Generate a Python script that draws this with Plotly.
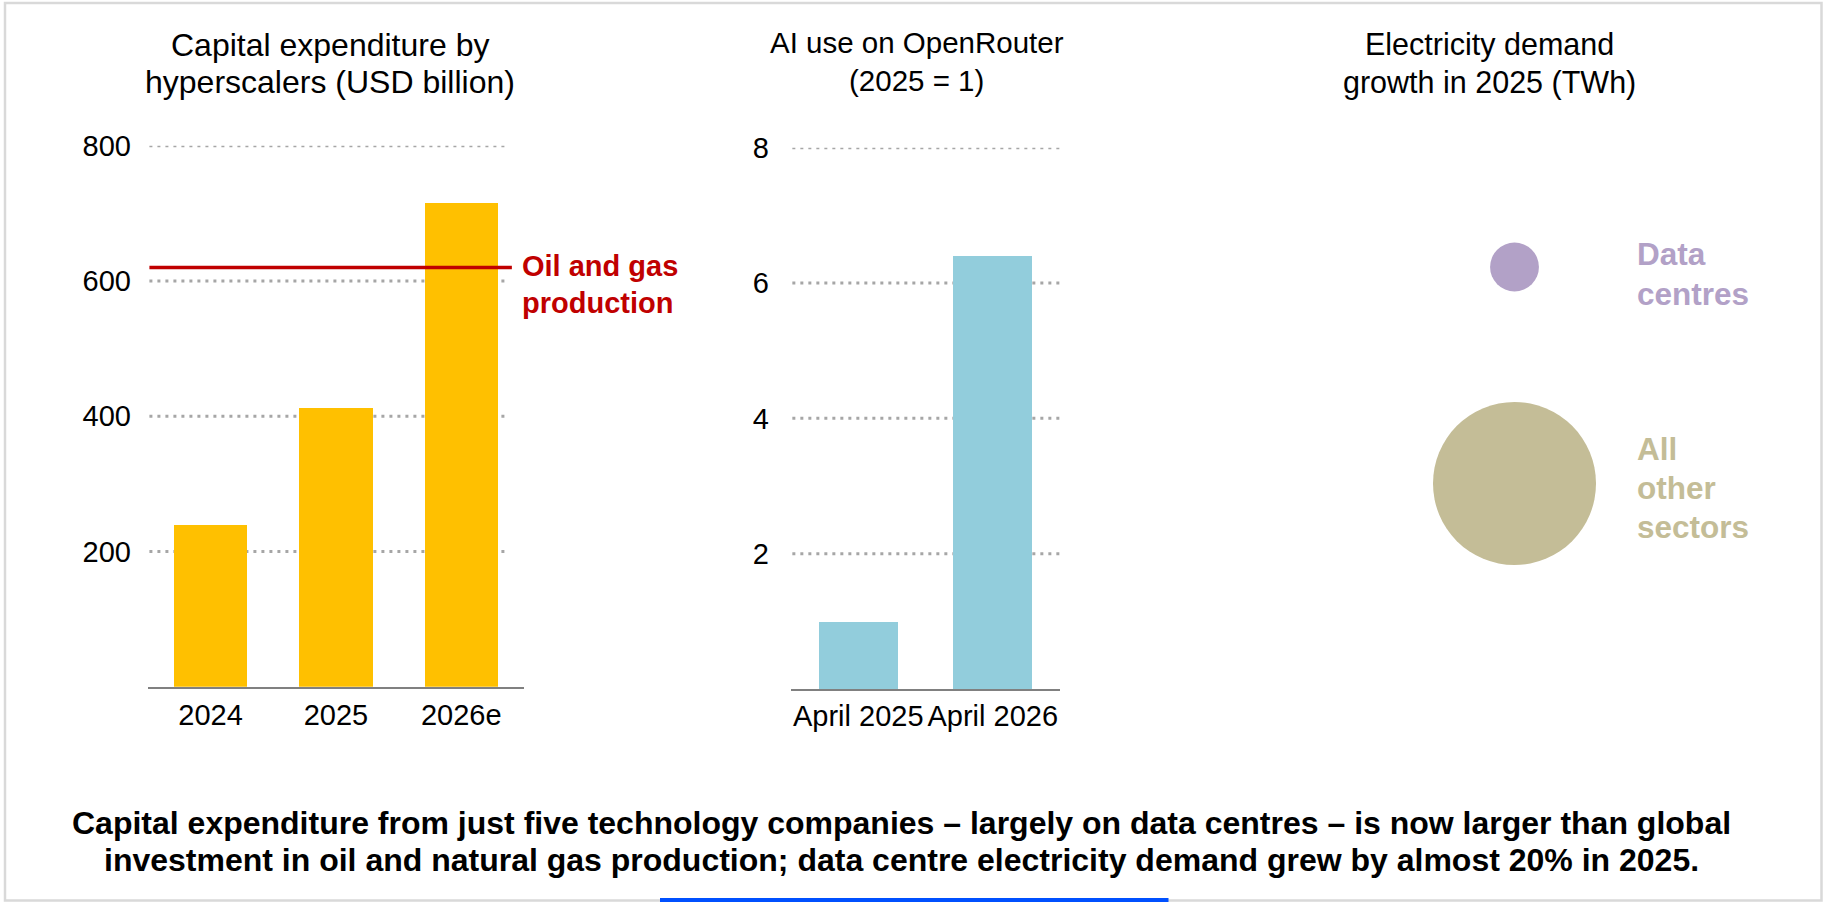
import plotly.graph_objects as go

# ---------------- data ----------------
capex_years = ["2024", "2025", "2026e"]
capex_values = [240, 412, 715]
capex_ticks = [200, 400, 600, 800]
oil_gas_investment = 620

ai_periods = ["April 2025", "April 2026"]
ai_values = [1.0, 6.4]
ai_ticks = [2, 4, 6, 8]

sectors = ["All other sectors", "Data centres"]
sector_year = ["2025", "2025"]
sector_growth_twh = [890, 80]

W, H = 1825, 902
FONT = "Liberation Sans, Arial, sans-serif"


def px_x(p):
    return p / W


def px_y(p):
    return 1 - p / H


fig = go.Figure()

# ---------------- panel 1: capex bars ----------------
fig.add_trace(go.Bar(
    x=capex_years, y=capex_values, xaxis="x", yaxis="y",
    marker=dict(color="#ffc000", line=dict(width=0)), width=0.587,
    showlegend=False, hoverinfo="x+y",
))

# ---------------- panel 2: AI use bars ----------------
fig.add_trace(go.Bar(
    x=ai_periods, y=ai_values, xaxis="x2", yaxis="y2",
    marker=dict(color="#92cddc", line=dict(width=0)), width=0.588,
    showlegend=False, hoverinfo="x+y",
))

# ---------------- panel 3: bubbles ----------------
max_d = 163
fig.add_trace(go.Scatter(
    x=sector_year, y=sectors, xaxis="x3", yaxis="y3", mode="markers",
    marker=dict(
        size=sector_growth_twh, sizemode="area",
        sizeref=2 * max(sector_growth_twh) / (max_d ** 2),
        color=["#c4bd97", "#b2a1c7"], line=dict(width=0), opacity=1,
    ),
    cliponaxis=False, showlegend=False, hoverinfo="y+text",
    text=[f"{v} TWh" for v in sector_growth_twh],
))

tick_font = dict(family=FONT, size=29, color="#000000")

layout = dict(
    width=W, height=H,
    margin=dict(l=0, r=0, t=0, b=0),
    paper_bgcolor="white", plot_bgcolor="rgba(0,0,0,0)",
    bargap=0,
    font=dict(family=FONT, color="#000000"),
    xaxis=dict(
        domain=[px_x(147.9), px_x(523.9)], range=[-0.5, 2.5], type="category",
        categoryorder="array", categoryarray=capex_years,
        showline=True, linecolor="#808080", linewidth=2,
        showgrid=False, zeroline=False, ticks="", tickfont=tick_font,
        ticklabelstandoff=1, fixedrange=True, automargin=False,
    ),
    yaxis=dict(
        domain=[px_y(686.7), px_y(145.7)], range=[0, 800],
        tickvals=capex_ticks, showgrid=False, zeroline=False, showline=False,
        ticks="", tickfont=tick_font, ticklabelstandoff=16, fixedrange=True,
        automargin=False,
    ),
    xaxis2=dict(
        domain=[px_x(791), px_x(1060)], range=[-0.5, 1.5], type="category",
        categoryorder="array", categoryarray=ai_periods, anchor="y2",
        showline=True, linecolor="#808080", linewidth=2,
        showgrid=False, zeroline=False, ticks="", tickfont=tick_font,
        ticklabelstandoff=0, fixedrange=True, automargin=False,
    ),
    yaxis2=dict(
        domain=[px_y(689), px_y(147.7)], range=[0, 8], anchor="x2",
        tickvals=ai_ticks, showgrid=False, zeroline=False, showline=False,
        ticks="", tickfont=tick_font, ticklabelstandoff=21, fixedrange=True,
        automargin=False,
    ),
    xaxis3=dict(
        domain=[px_x(1464.5), px_x(1564.5)], range=[-0.5, 0.5], type="category",
        anchor="y3", visible=False, fixedrange=True,
    ),
    yaxis3=dict(
        domain=[px_y(591.75), px_y(158.75)], range=[-0.5, 1.5], type="category",
        categoryorder="array", categoryarray=sectors,
        anchor="x3", visible=False, fixedrange=True,
    ),
)
fig.update_layout(**layout)

shapes = []
# dotted gridlines, panel 1
for v in capex_ticks:
    shapes.append(dict(type="line", xref="x domain", yref="y",
                       x0=0.004, x1=0.958, y0=v, y1=v, layer="below",
                       line=dict(color="#a6a6a6", width=3, dash="3px,5px")))
# dotted gridlines, panel 2
for v in ai_ticks:
    shapes.append(dict(type="line", xref="x2 domain", yref="y2",
                       x0=0.005, x1=1.0, y0=v, y1=v, layer="below",
                       line=dict(color="#a6a6a6", width=3, dash="3px,5px")))
# oil and gas reference line
shapes.append(dict(type="line", xref="x domain", yref="y",
                   x0=0.004, x1=0.968, y0=oil_gas_investment, y1=oil_gas_investment,
                   layer="above", line=dict(color="#c00000", width=3.5)))
# outer frame
shapes.append(dict(type="rect", xref="paper", yref="paper",
                   x0=px_x(5), x1=px_x(1821.5), y0=px_y(900.5), y1=px_y(3),
                   line=dict(color="#d9d9d9", width=2.5), fillcolor="rgba(0,0,0,0)"))
# blue accent bar at bottom
shapes.append(dict(type="rect", xref="paper", yref="paper",
                   x0=px_x(660), x1=px_x(1168.5), y0=px_y(902), y1=px_y(898),
                   line=dict(width=0), fillcolor="#0050ff"))
fig.update_layout(shapes=shapes)

annotations = []


def line_ann(text, x, y, size, bold=False, color="#000000", xanchor="center"):
    t = f"<b>{text}</b>" if bold else text
    return dict(text=t, x=px_x(x), y=px_y(y), xref="paper", yref="paper",
                xanchor=xanchor, yanchor="middle", showarrow=False,
                font=dict(family=FONT, size=size, color=color))


# panel titles
annotations.append(line_ann("Capital expenditure by", 330, 45, 32))
annotations.append(line_ann("hyperscalers (USD billion)", 330, 82, 32))
annotations.append(line_ann("AI use on OpenRouter", 916.5, 43, 29.5))
annotations.append(line_ann("(2025 = 1)", 916.5, 80, 29.5))
annotations.append(line_ann("Electricity demand", 1489, 44, 30.5))
annotations.append(line_ann("growth in 2025 (TWh)", 1489, 82, 30.5))

# oil and gas label (two lines, positioned relative to the reference line)
for i, line in enumerate(["Oil and gas", "production"]):
    annotations.append(dict(
        text=f"<b>{line}</b>", x=px_x(520), xref="paper",
        y=oil_gas_investment, yref="y", xanchor="left", yanchor="middle",
        yshift=1 - (i * 37), align="left", showarrow=False,
        font=dict(family=FONT, size=29, color="#c00000"),
    ))

# bubble labels
for i, line in enumerate(["Data", "centres"]):
    annotations.append(dict(
        text=f"<b>{line}</b>", x=px_x(1635), xref="paper",
        y=sectors[1], yref="y3", xanchor="left", yanchor="middle",
        yshift=13 - i * 40, align="left", showarrow=False,
        font=dict(family=FONT, size=31.5, color="#b2a1c7"),
    ))
for i, line in enumerate(["All", "other", "sectors"]):
    annotations.append(dict(
        text=f"<b>{line}</b>", x=px_x(1635), xref="paper",
        y=sectors[0], yref="y3", xanchor="left", yanchor="middle",
        yshift=35 - i * 39, align="left", showarrow=False,
        font=dict(family=FONT, size=31.5, color="#c4bd97"),
    ))

# bottom message
msg_lines = [
    "Capital expenditure from just five technology companies \u2013 largely on data centres \u2013 is now larger than global",
    "investment in oil and natural gas production; data centre electricity demand grew by almost 20% in 2025.",
]
for line, y in zip(msg_lines, [823, 860]):
    annotations.append(line_ann(line, 901, y, 32, bold=True))

fig.update_layout(annotations=annotations)

fig.write_html(
    "out.html",
    config={"displayModeBar": False},
    post_script="document.body.style.margin='0';document.body.style.overflow='hidden';",
)
